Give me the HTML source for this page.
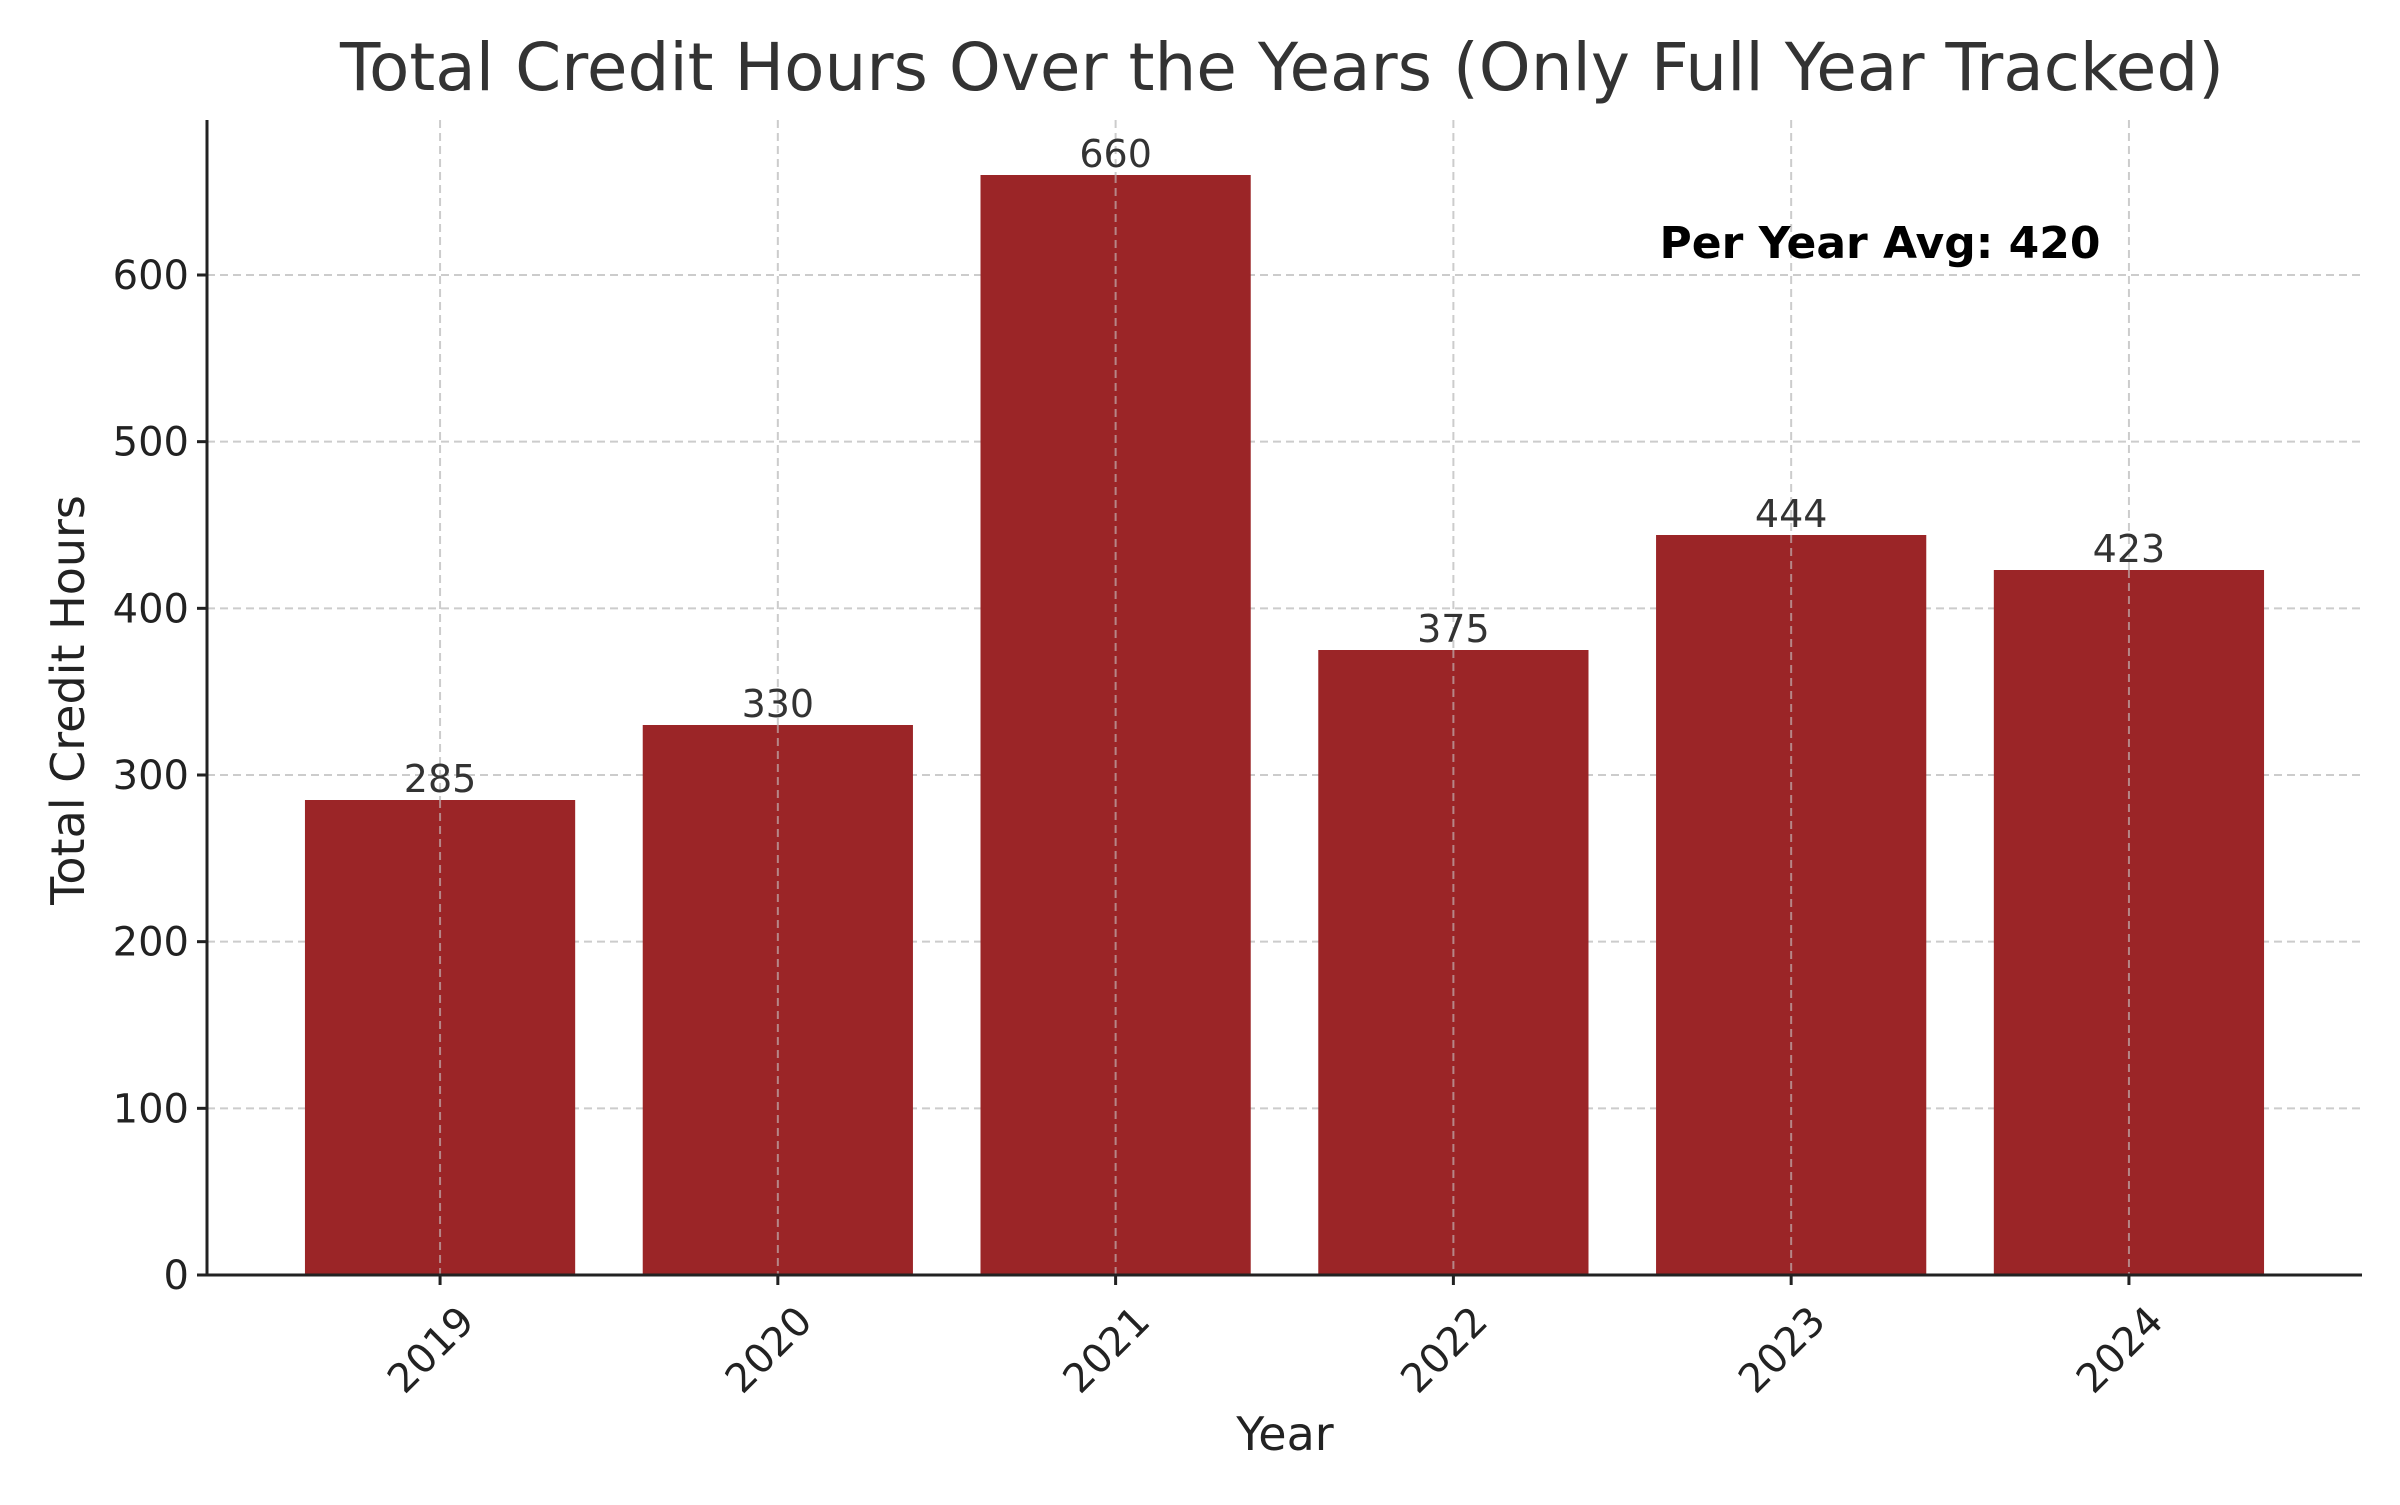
<!DOCTYPE html>
<html><head><meta charset="utf-8"><style>
body{margin:0;background:#fff}
svg text{font-family:"DejaVu Sans","Liberation Sans",sans-serif}
</style></head><body>
<svg id="chart" width="2400" height="1500" xmlns="http://www.w3.org/2000/svg">
<text x="1282" y="90" font-size="66" fill="#333" text-anchor="middle">Total Credit Hours Over the Years (Only Full Year Tracked)</text>
<g id="grid"></g><g id="bars"></g><g id="axes"></g>
<text x="1285" y="1450" font-size="46" fill="#222" text-anchor="middle">Year</text>
<text transform="translate(84,700) rotate(-90)" font-size="46" fill="#222" text-anchor="middle">Total Credit Hours</text>
<text x="1880" y="258" font-size="44" font-weight="bold" fill="#000" text-anchor="middle">Per Year Avg: 420</text>
</svg>
<script>
const categories=["2019","2020","2021","2022","2023","2024"];
const values=[285,330,660,375,444,423];
const yTicks=[0,100,200,300,400,500,600];
const L=207,R=2362,B=1275,T=120;
const yMax=693, xMin=-0.69, xMax=5.69;
const sx=i=>L+(i-xMin)/(xMax-xMin)*(R-L);
const sy=v=>B-v/yMax*(B-T);
const ns="http://www.w3.org/2000/svg";
function mk(tag,attrs,parent,txt){const e=document.createElementNS(ns,tag);for(const k in attrs)e.setAttribute(k,attrs[k]);if(txt!==undefined)e.textContent=txt;document.getElementById(parent).appendChild(e);return e;}
yTicks.forEach(v=>{
  const g=mk('line',{x1:L,x2:R,y1:sy(v),y2:sy(v),stroke:'#ccc','stroke-width':2,'stroke-dasharray':'8,5'},'grid');
  
  
});
categories.forEach((c,i)=>{
  const g=mk('line',{x1:sx(i),x2:sx(i),y1:T,y2:B,stroke:'#ccc','stroke-width':2,'stroke-dasharray':'8,5'},'grid');
  
  
});
const bw=0.8*(R-L)/(xMax-xMin);
categories.forEach((c,i)=>{
  const r=mk('rect',{x:sx(i)-bw/2,y:sy(values[i]),width:bw,height:B-sy(values[i]),fill:'#9b2527'},'bars');
  
  
  const gl=mk('line',{x1:sx(i),x2:sx(i),y1:sy(values[i]),y2:B,stroke:'rgba(200,200,200,0.6)','stroke-width':2,'stroke-dasharray':'8,5'},'bars');
  
  
  const t=mk('text',{x:sx(i),y:sy(values[i])-8,'font-size':38,fill:'#333','text-anchor':'middle'},'bars',String(values[i]));
  
  
  const tk=mk('line',{x1:sx(i),x2:sx(i),y1:B,y2:B+10,stroke:'#222','stroke-width':3},'axes');
  
  
  const xl=mk('text',{transform:`translate(${sx(i)+16},${B+28}) rotate(-45)`,'font-size':40,fill:'#222','text-anchor':'end','dominant-baseline':'hanging'},'axes',c);
  
  
});
yTicks.forEach(v=>{
  const tk=mk('line',{x1:L-10,x2:L,y1:sy(v),y2:sy(v),stroke:'#222','stroke-width':3},'axes');
  
  
  const t=mk('text',{x:L-18,y:sy(v)+14,'font-size':40,fill:'#222','text-anchor':'end'},'axes',String(v));
  
  
});
const ya=mk('line',{x1:L,x2:L,y1:T,y2:B,stroke:'#222','stroke-width':3},'axes');


const xa=mk('line',{x1:L,x2:R,y1:B,y2:B,stroke:'#222','stroke-width':3},'axes');


</script>
</body></html>
